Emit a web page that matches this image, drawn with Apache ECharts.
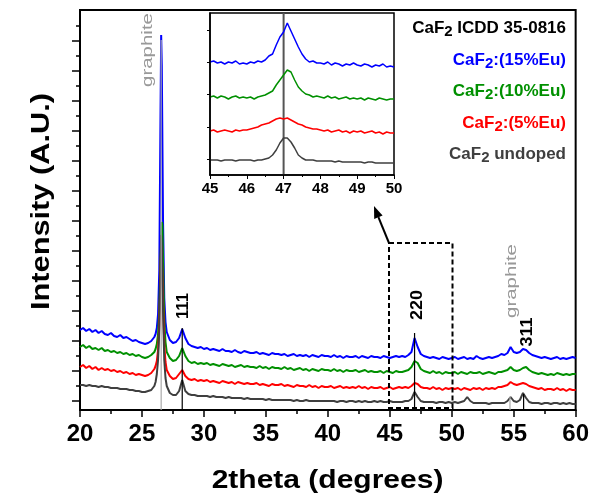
<!DOCTYPE html>
<html>
<head>
<meta charset="utf-8">
<script src="https://cdn.jsdelivr.net/npm/echarts@6/dist/echarts.min.js"></script>
<style>
  html, body { margin: 0; padding: 0; background: #fff; }
  #chart { width: 592px; height: 497px; }
</style>
</head>
<body>
<div id="chart"></div>
<script>
// main pattern: 20..60 deg, step 0.25 (null = covered by graphite peak detail)
const mainStart = 20, mainStep = 0.25;
const blueMain = [
  80,82,79,81,78,80,77,79, 76,75,77,74,73,75,72,73, 71,69,70,68,67,66,67,69,
  null,null,null,null,null,70,67,68, 72,81,72,66,64,63,62,63, 61,62,60,61,60,59,61,59,
  59,58,60,58,57,59,58,57, 57,58,56,57,56,55,57,56, 56,55,56,54,55,56,54,55,
  54,55,53,55,54,53,55,54, 54,53,55,53,54,52,54,53, 53,54,52,54,53,52,54,53,
  53,52,54,53,52,53,54,53, 54,53,55,58,72,63,56,54, 53,52,53,52,51,53,52,51,
  52,53,51,52,53,51,52,51, 54,52,51,52,53,52,53,54, 56,55,57,63,58,57,58,61,
  60,57,55,54,53,52,53,52, 51,52,53,51,52,51,52,53, 52
];
const greenMain = [
  63,65,62,64,61,62,60,62, 59,60,58,59,57,58,56,57, 55,56,54,55,53,52,53,55,
  null,null,null,null,null,52,49,50, 54,62,54,49,47,48,46,47, 46,47,45,46,45,44,46,45,
  44,45,43,44,45,43,44,43, 43,42,44,42,43,41,43,42, 42,41,43,41,42,40,41,42,
  40,41,39,41,40,39,41,40, 40,39,41,39,40,38,40,39, 39,40,38,39,40,38,39,38,
  38,39,37,39,38,37,39,38, 38,39,40,43,49,47,41,39, 38,37,39,37,38,36,38,37,
  37,38,36,38,37,36,38,37, 37,38,36,37,38,37,36,38, 38,39,40,43,40,39,40,42,
  43,40,38,37,36,37,36,35, 36,35,37,36,35,36,35,36, 36
];
const redMain = [
  43,45,42,44,41,43,40,42, 40,41,39,40,38,39,37,38, 36,37,35,36,35,34,35,37,
  null,null,null,null,null,34,31,32, 36,40,34,31,30,31,29,30, 29,30,28,29,28,27,29,28,
  27,28,26,28,27,26,27,26, 26,27,25,26,25,24,26,25, 25,26,24,25,24,23,25,24,
  24,23,25,23,24,22,24,23, 23,24,22,23,24,22,23,22, 23,22,24,22,23,21,23,22,
  22,23,21,22,23,21,22,23, 22,23,22,24,27,26,23,22, 22,21,23,21,22,20,22,21,
  22,21,22,20,22,21,20,22, 21,22,20,22,21,22,21,23, 23,24,25,28,26,25,26,27,
  26,24,23,22,21,22,20,21, 21,20,22,20,21,19,21,20, 20
];
const greyMain = [
  25,25,24,25,24,24,23,24, 23,23,22,22,22,21,21,21, 20,20,19,19,18,18,19,20,
  null,null,null,null,null,17,15,15, 19,30,19,16,15,15,14,14, 14,14,13,14,13,13,13,12,
  13,12,12,12,12,11,12,11, 11,11,11,11,10,11,10,10, 10,10,10,10,10,9,10,9,
  9,10,9,9,9,9,9,9, 9,9,9,8,9,9,8,9, 9,8,9,8,9,8,8,9,
  8,9,8,8,9,8,8,8, 8,9,9,11,18,13,9,8, 8,8,8,7,8,8,7,8,
  7,8,7,8,9,13,9,7, 7,7,7,7,6,7,7,7, 7,7,9,13,9,8,10,17,
  12,8,7,7,7,6,7,7, 6,7,7,6,7,6,7,6, 6
];
// graphite peak detail [2theta, intensity]
const bluePeak = [[26.0,73],[26.1,76],[26.2,82],[26.3,96],[26.4,140],[26.5,300],[26.55,375],[26.6,345],[26.7,190],[26.8,112],[26.9,88],[27.0,78]];
const greenPeak = [[26.0,58],[26.1,61],[26.2,66],[26.3,76],[26.4,100],[26.5,150],[26.6,188],[26.65,185],[26.7,150],[26.8,90],[26.9,68],[27.0,58]];
const redPeak = [[26.0,41],[26.1,44],[26.2,49],[26.3,60],[26.4,85],[26.5,140],[26.55,165],[26.6,155],[26.7,110],[26.8,65],[26.9,48],[27.0,40]];
const greyPeak = [[26.0,24],[26.1,28],[26.2,36],[26.3,50],[26.4,80],[26.5,150],[26.55,175],[26.6,165],[26.7,100],[26.8,50],[26.9,32],[27.0,24]];

// reference sticks: position, height, colour
const stickPos = [26.55, 28.25, 47.0, 54.7, 55.8];
const stickTop = [370, 82, 77, 13, 16];
const stickColor = ['#aaaaaa', '#000000', '#000000', '#aaaaaa', '#000000'];

// inset: 45..50 deg, step 0.1
const insetStart = 45, insetStep = 0.1;
const blueInset = [
  113,114,112,113,111,113,112,114,111,112,
  111,113,112,114,113,115,119,121,130,138,
  143,152,144,136,128,121,116,113,114,112,
  112,111,113,110,112,111,109,111,110,112,
  110,109,111,110,108,110,109,111,108,109, 108
];
const greenInset = [
  78,79,77,79,78,76,78,79,77,78,
  77,78,76,78,79,80,82,84,90,95,
  100,105,103,95,88,84,81,80,78,79,
  78,77,79,77,78,76,77,78,76,77,
  76,77,75,77,76,75,77,76,75,76, 76
];
const redInset = [
  44,45,43,44,45,44,43,45,44,45,
  45,46,47,48,50,51,52,54,56,57,
  56,57,55,53,51,50,48,47,46,46,
  45,44,45,43,44,45,43,44,42,44,
  43,44,42,43,44,42,43,41,43,42, 42
];
const greyInset = [
  15,15,15,14,15,15,15,14,15,15,
  15,15,14,15,15,16,17,20,25,32,
  37,37,33,27,20,17,15,15,15,14,
  14,14,14,14,13,14,13,13,13,13,
  13,13,12,13,13,12,12,12,12,12, 12
];

const mainYTicks = [9,39,69,99,129,159,189,219,249,279,309,339,369];
const mainYMinor = [24,54,84,114,144,174,204,234,264,294,324,354,384];
const insetYTicks = [16,48,81,113,145];

const colors = ['#0000ff', '#009000', '#ff0000', '#3f3f3f'];
const FONT = '"Liberation Sans", Arial, sans-serif';

function buildMain(base, peak) {
  const pts = [];
  base.forEach((v, i) => { if (v !== null) pts.push([mainStart + i * mainStep, v]); });
  peak.forEach(p => pts.push(p));
  pts.sort((a, b) => a[0] - b[0]);
  return pts;
}
function buildInset(vals) {
  return vals.map((v, i) => [+(insetStart + i * insetStep).toFixed(2), v]);
}

const chart = echarts.init(document.getElementById('chart'));

const series = [];
[[blueMain, bluePeak], [greenMain, greenPeak], [redMain, redPeak], [greyMain, greyPeak]].forEach((s, k) => {
  series.push({
    type: 'line', xAxisIndex: 0, yAxisIndex: 0, showSymbol: false, silent: true,
    lineStyle: { color: colors[k], width: 2 }, data: buildMain(s[0], s[1])
  });
});
stickPos.forEach((x, k) => {
  series.push({
    type: 'line', xAxisIndex: 0, yAxisIndex: 0, showSymbol: false, silent: true,
    lineStyle: { color: stickColor[k], width: 1.2 }, data: [[x, 0], [x, stickTop[k]]]
  });
});
series.push({
  type: 'line', xAxisIndex: 1, yAxisIndex: 2, showSymbol: false, silent: true, z: 10,
  lineStyle: { color: '#555555', width: 2 }, data: [[47, 0], [47, 162]]
});
[blueInset, greenInset, redInset, greyInset].forEach((v, k) => {
  series.push({
    type: 'line', xAxisIndex: 1, yAxisIndex: 2, showSymbol: false, silent: true, z: 11,
    lineStyle: { color: colors[k], width: 1.5 }, data: buildInset(v)
  });
});

function rotText(x, y, text, size, weight, color, stretch) {
  return {
    type: 'text', x: x, y: y, rotation: Math.PI / 2, scaleX: stretch, z: 100,
    style: { text: text, font: weight + ' ' + size + 'px ' + FONT, fill: color, align: 'center', verticalAlign: 'middle' }
  };
}
function legendText(y, pre, post, color) {
  const base = { fontSize: 17, fontWeight: 'bold', fontFamily: FONT, fill: color, lineHeight: 22 };
  return {
    type: 'text', x: 566, y: y, z: 100,
    style: {
      text: '{m|' + pre + '}{s|2}{m|' + post + '}', align: 'right', verticalAlign: 'middle',
      rich: { m: base, s: { fontSize: 15, fontWeight: 'bold', fontFamily: FONT, fill: color, lineHeight: 12, verticalAlign: 'bottom' } }
    }
  };
}

chart.setOption({
  animation: false,
  backgroundColor: '#ffffff',
  grid: [
    { left: 80, right: 15, top: 10, bottom: 87, show: true, borderColor: '#000', borderWidth: 2, backgroundColor: '#fff' },
    { left: 210, top: 13, width: 184, height: 162, show: true, borderColor: '#000', borderWidth: 1.5, backgroundColor: '#fff', z: 5 }
  ],
  xAxis: [
    {
      type: 'value', gridIndex: 0, min: 20, max: 60, interval: 5,
      axisLine: { lineStyle: { color: '#000', width: 2 } },
      axisTick: { length: 7, lineStyle: { color: '#000', width: 1.5 } },
      minorTick: { show: true, splitNumber: 2, length: 4, lineStyle: { color: '#000', width: 1.5 } },
      axisLabel: { fontSize: 24, fontWeight: 'bold', fontFamily: FONT, color: '#000', margin: 12 },
      splitLine: { show: false }
    },
    {
      type: 'value', gridIndex: 1, min: 45, max: 50, interval: 1, z: 12,
      axisLine: { lineStyle: { color: '#000', width: 1.5 } },
      axisTick: { length: 4, lineStyle: { color: '#000', width: 1 } },
      minorTick: { show: true, splitNumber: 2, length: 2, lineStyle: { color: '#000', width: 1 } },
      axisLabel: { fontSize: 15, fontWeight: 'bold', fontFamily: FONT, color: '#000', margin: 6 },
      splitLine: { show: false }
    }
  ],
  yAxis: [
    {
      type: 'value', gridIndex: 0, min: 0, max: 400,
      axisLine: { show: true, lineStyle: { color: '#000', width: 2 } },
      axisTick: { show: true, length: 8, customValues: mainYTicks, lineStyle: { color: '#000', width: 1.5 } },
      axisLabel: { show: false }, splitLine: { show: false }
    },
    {
      type: 'value', gridIndex: 0, min: 0, max: 400, position: 'left',
      axisLine: { show: false },
      axisTick: { show: true, length: 4, customValues: mainYMinor, lineStyle: { color: '#000', width: 1.5 } },
      axisLabel: { show: false }, splitLine: { show: false }
    },
    {
      type: 'value', gridIndex: 1, min: 0, max: 162, z: 12,
      axisLine: { show: true, lineStyle: { color: '#000', width: 1.5 } },
      axisTick: { show: true, length: 3, customValues: insetYTicks, lineStyle: { color: '#000', width: 1 } },
      axisLabel: { show: false }, splitLine: { show: false }
    }
  ],
  series: series,
  graphic: [
    rotText(42, 201.5, 'Intensity (A.U.)', 25, 'bold', '#000', 1.23),
    { type: 'text', x: 327.5, y: 481, scaleX: 1.2, z: 100,
      style: { text: '2theta (degrees)', font: 'bold 25px ' + FONT, fill: '#000', align: 'center', verticalAlign: 'middle' } },
    rotText(148, 50, 'graphite', 14, 'normal', '#999999', 1.46),
    rotText(512.5, 281, 'graphite', 14, 'normal', '#999999', 1.46),
    rotText(183.5, 306, '111', 16, 'bold', '#000', 1.05),
    rotText(418, 305, '220', 16, 'bold', '#000', 1.12),
    rotText(527.5, 332, '311', 16, 'bold', '#000', 1.12),
    legendText(28, 'CaF', ' ICDD 35-0816', '#000000'),
    legendText(60, 'CaF', ':(15%Eu)', colors[0]),
    legendText(91, 'CaF', ':(10%Eu)', colors[1]),
    legendText(123, 'CaF', ':(5%Eu)', colors[2]),
    legendText(154.5, 'CaF', ' undoped', colors[3]),
    { type: 'rect', z: 100, shape: { x: 389, y: 243, width: 63.5, height: 165 },
      style: { fill: 'none', stroke: '#000', lineWidth: 2, lineDash: [5, 3] } },
    { type: 'line', z: 100, shape: { x1: 389, y1: 243, x2: 378.4, y2: 217.2 },
      style: { stroke: '#000', lineWidth: 2 } },
    { type: 'polygon', z: 100, shape: { points: [[374, 206], [382.6, 215.5], [374.2, 218.9]] },
      style: { fill: '#000' } }
  ]
});
</script>
</body>
</html>
